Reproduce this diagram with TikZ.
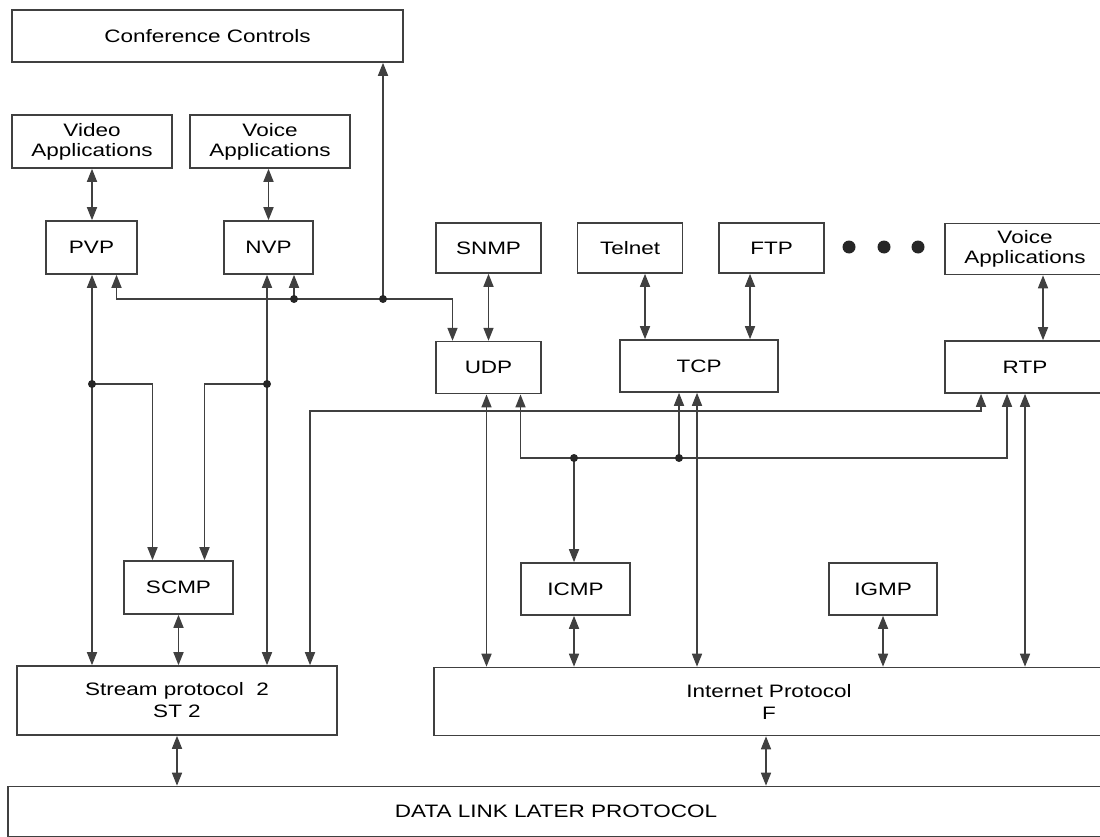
\documentclass[tikz,border=0pt]{standalone}
\usepackage{fontspec}
\setmainfont{Liberation Sans}[FakeStretch=1.25]
\usetikzlibrary{arrows.meta}
\usetikzlibrary{positioning}

\begin{document}
\begin{tikzpicture}[x=1pt,y=-1pt]

		\tikzset{line/.style={draw,line width=1.6pt,black!75}}
		\tikzset{arrow/.style={line,-{Triangle[length=13pt,width=10pt]}}}
		\tikzset{biarrow/.style={line,{Triangle[length=13pt,width=10pt]}-{Triangle[length=13pt,width=10pt]}}}
		\tikzset{box/.style={draw,black!75,line width=1.6pt,text=black,inner sep=0pt,align=center,font=\fontsize{18}{20}\selectfont}}

		\useasboundingbox (0,0) rectangle (1100,837);

		\node[box, minimum width=391, minimum height=52] (cc) at (207.5,36) {Conference Controls};
		\node[box, minimum width=160, minimum height=53] (video) at (92,141.5) {Video\\Applications};
		\node[box, minimum width=160, minimum height=53] (voice) at (270,141.5) {Voice\\Applications};
		\node[box, minimum width=91, minimum height=53] (pvp) at (91.5,247.5) {PVP};
		\node[box, minimum width=89, minimum height=53] (nvp) at (268.5,247.5) {NVP};

		\node[box, minimum width=105, minimum height=50] (snmp) at (488.5,248) {SNMP};
		\node[box, minimum width=105, minimum height=50, right=35pt of snmp] (telnet) {Telnet};
		\node[box, minimum width=105, minimum height=50, right=35pt of telnet] (ftp) {FTP};
		\node[box, minimum width=160, minimum height=51] (voice2) at (1025,249) {Voice\\Applications};

		\node[box, minimum width=105, minimum height=52, below=67pt of snmp] (udp) {UDP};
		\node[box, minimum width=158, minimum height=52] (tcp) at (699,366) {TCP};
		\node[box, minimum width=160, minimum height=52] (rtp) at (1025,367) {RTP};

		\node[box, minimum width=109, minimum height=53] (scmp) at (178.5,587.5) {SCMP};
		\node[box, minimum width=109, minimum height=52] (icmp) at (575.5,589) {ICMP};
		\node[box, minimum width=108, minimum height=52] (igmp) at (883,589) {IGMP};

		\node[box, minimum width=320, minimum height=69] (st2) at (177,700.5) {Stream protocol\ \ 2\\[2pt]ST 2};
		\node[box, minimum width=670, minimum height=68] (ip) at (769,701.5) {Internet Protocol\\[2pt]F};
		\node[box, minimum width=1096, minimum height=50] (dl) at (556,811.5) {DATA LINK LATER PROTOCOL};

		\foreach \x in {849,884,918}
			\fill[black!85] (\x,247) circle (6.5pt);

		\coordinate (pj) at (92,384);
		\coordinate (nj) at (267,384);
		\coordinate (nvj) at (294,299);
		\coordinate (ccj) at (383,299);
		\coordinate (stj) at (310,411);
		\coordinate (lj) at (574,458);
		\coordinate (tj) at (679,458);

		\path[biarrow] (video.south) -- (video.south |- pvp.north);
		\path[biarrow] (voice.south -| nvp) -- (nvp.north);

		\path[biarrow] (pvp.south -| pj) -- (st2.north -| pj);
		\path[biarrow] (nvp.south -| nj) -- (st2.north -| nj);
		\path[arrow] (pj) -| ([xshift=-26pt]scmp.north);
		\path[arrow] (nj) -| ([xshift=26pt]scmp.north);
		\path[biarrow] (scmp.south) -- (scmp.south |- st2.north);

		\path[biarrow] ([xshift=25pt]pvp.south) |- (ccj) -| ([xshift=-36pt]udp.north);
		\path[arrow] (nvj) -- (nvj |- nvp.south);
		\path[arrow] (ccj) -- (ccj |- cc.south);

		\path[biarrow] (snmp) -- (udp);
		\path[biarrow] ([xshift=-54pt]tcp.north) -- ([xshift=-54pt]tcp.north |- telnet.south);
		\path[biarrow] ([xshift=51pt]tcp.north) -- ([xshift=51pt]tcp.north |- ftp.south);
		\path[biarrow] ([xshift=18pt]rtp.north) -- ([xshift=18pt]rtp.north |- voice2.south);

		\path[biarrow] (st2.north -| stj) -- (stj) -| ([xshift=-44pt]rtp.south);
		\path[biarrow] ([xshift=32pt]udp.south) |- (lj) -- (tj) -| ([xshift=-18pt]rtp.south);
		\path[arrow] (tj) -- (tj |- tcp.south);
		\path[arrow] (lj) -- (lj |- icmp.north);

		\path[biarrow] ([xshift=-2pt]udp.south) -- ([xshift=-2pt]udp.south |- ip.north);
		\path[biarrow] ([xshift=-2pt]tcp.south) -- ([xshift=-2pt]tcp.south |- ip.north);
		\path[biarrow] (rtp.south) -- (rtp.south |- ip.north);
		\path[biarrow] (icmp.south -| lj) -- (ip.north -| lj);
		\path[biarrow] (igmp.south) -- (igmp.south |- ip.north);

		\path[biarrow] (st2.south) -- (st2.south |- dl.north);
		\path[biarrow] ([xshift=-3pt]ip.south) -- ([xshift=-3pt]ip.south |- dl.north);

		\foreach \j in {pj,nj,nvj,ccj,lj,tj}
			\fill[black!85] (\j) circle (4pt);

\end{tikzpicture}
\end{document}
